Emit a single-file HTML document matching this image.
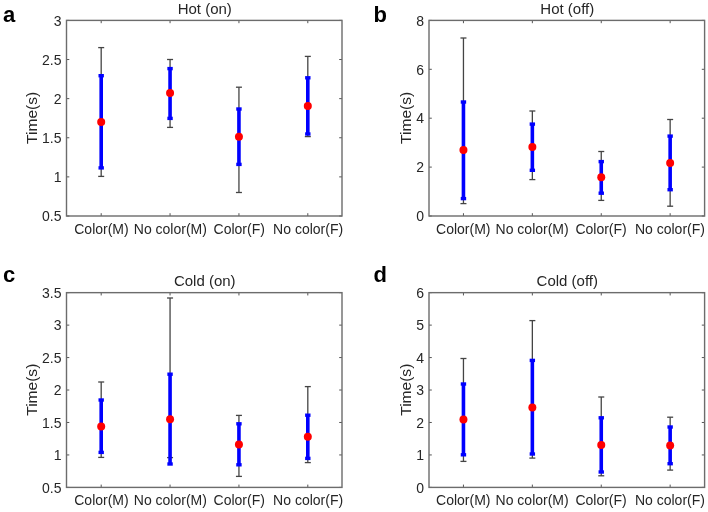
<!DOCTYPE html>
<html><head><meta charset="utf-8"><style>
html,body{margin:0;padding:0;background:#fff;}
svg{display:block;will-change:transform;}
text{font-family:"Liberation Sans",sans-serif;}
.let{font-size:22px;font-weight:bold;fill:#000;}
.tt{font-size:14px;fill:#262626;}
.ti{font-size:15px;fill:#262626;}
.tl{font-size:14px;fill:#262626;}
.ax{fill:none;stroke:#6c6c6c;stroke-width:1.4;}
.tk{stroke:#555;stroke-width:1;}
.bk{stroke:#444;stroke-width:1.3;}
.bl{stroke:#0000ff;stroke-width:3.6;}
.blc{stroke:#0000ff;stroke-width:3.4;}
.rd{fill:#ff0000;}
</style></head><body>
<svg width="708" height="512" viewBox="0 0 708 512">
<text x="3" y="22" class="let">a</text>
<text x="204.75" y="14.20" class="ti" text-anchor="middle">Hot (on)</text>
<text transform="translate(36.50,117.90) rotate(-90) scale(1.11,1)" class="tt" text-anchor="middle">Time(s)</text>
<line x1="66.5" y1="216.00" x2="69.3" y2="216.00" class="tk"/>
<line x1="342.0" y1="216.00" x2="339.2" y2="216.00" class="tk"/>
<text x="61.50" y="221.20" class="tl" text-anchor="end">0.5</text>
<line x1="66.5" y1="176.88" x2="69.3" y2="176.88" class="tk"/>
<line x1="342.0" y1="176.88" x2="339.2" y2="176.88" class="tk"/>
<text x="61.50" y="182.08" class="tl" text-anchor="end">1</text>
<line x1="66.5" y1="137.76" x2="69.3" y2="137.76" class="tk"/>
<line x1="342.0" y1="137.76" x2="339.2" y2="137.76" class="tk"/>
<text x="61.50" y="142.96" class="tl" text-anchor="end">1.5</text>
<line x1="66.5" y1="98.64" x2="69.3" y2="98.64" class="tk"/>
<line x1="342.0" y1="98.64" x2="339.2" y2="98.64" class="tk"/>
<text x="61.50" y="103.84" class="tl" text-anchor="end">2</text>
<line x1="66.5" y1="59.52" x2="69.3" y2="59.52" class="tk"/>
<line x1="342.0" y1="59.52" x2="339.2" y2="59.52" class="tk"/>
<text x="61.50" y="64.72" class="tl" text-anchor="end">2.5</text>
<line x1="66.5" y1="20.40" x2="69.3" y2="20.40" class="tk"/>
<line x1="342.0" y1="20.40" x2="339.2" y2="20.40" class="tk"/>
<text x="61.50" y="25.60" class="tl" text-anchor="end">3</text>
<line x1="101.19" y1="216.0" x2="101.19" y2="213.2" class="tk"/>
<line x1="101.19" y1="20.4" x2="101.19" y2="23.2" class="tk"/>
<text x="101.49" y="234.20" class="tl" text-anchor="middle">Color(M)</text>
<line x1="170.06" y1="216.0" x2="170.06" y2="213.2" class="tk"/>
<line x1="170.06" y1="20.4" x2="170.06" y2="23.2" class="tk"/>
<text x="170.36" y="234.20" class="tl" text-anchor="middle">No color(M)</text>
<line x1="238.94" y1="216.0" x2="238.94" y2="213.2" class="tk"/>
<line x1="238.94" y1="20.4" x2="238.94" y2="23.2" class="tk"/>
<text x="239.24" y="234.20" class="tl" text-anchor="middle">Color(F)</text>
<line x1="307.81" y1="216.0" x2="307.81" y2="213.2" class="tk"/>
<line x1="307.81" y1="20.4" x2="307.81" y2="23.2" class="tk"/>
<text x="308.11" y="234.20" class="tl" text-anchor="middle">No color(F)</text>
<rect x="66.5" y="20.4" width="275.5" height="195.6" class="ax"/>
<line x1="101.19" y1="47.6" x2="101.19" y2="176.4" class="bk"/>
<line x1="98.19" y1="47.6" x2="104.19" y2="47.6" class="bk"/>
<line x1="98.19" y1="176.4" x2="104.19" y2="176.4" class="bk"/>
<line x1="101.19" y1="75.7" x2="101.19" y2="167.9" class="bl"/>
<line x1="98.49" y1="75.7" x2="103.89" y2="75.7" class="blc"/>
<line x1="98.49" y1="167.9" x2="103.89" y2="167.9" class="blc"/>
<circle cx="101.19" cy="122.0" r="4.0" class="rd"/>
<line x1="170.06" y1="59.5" x2="170.06" y2="127.4" class="bk"/>
<line x1="167.06" y1="59.5" x2="173.06" y2="59.5" class="bk"/>
<line x1="167.06" y1="127.4" x2="173.06" y2="127.4" class="bk"/>
<line x1="170.06" y1="68.6" x2="170.06" y2="118.4" class="bl"/>
<line x1="167.36" y1="68.6" x2="172.76" y2="68.6" class="blc"/>
<line x1="167.36" y1="118.4" x2="172.76" y2="118.4" class="blc"/>
<circle cx="170.06" cy="93.0" r="4.0" class="rd"/>
<line x1="238.94" y1="87.2" x2="238.94" y2="192.5" class="bk"/>
<line x1="235.94" y1="87.2" x2="241.94" y2="87.2" class="bk"/>
<line x1="235.94" y1="192.5" x2="241.94" y2="192.5" class="bk"/>
<line x1="238.94" y1="109.0" x2="238.94" y2="164.4" class="bl"/>
<line x1="236.24" y1="109.0" x2="241.64" y2="109.0" class="blc"/>
<line x1="236.24" y1="164.4" x2="241.64" y2="164.4" class="blc"/>
<circle cx="238.94" cy="136.7" r="4.0" class="rd"/>
<line x1="307.81" y1="56.4" x2="307.81" y2="136.6" class="bk"/>
<line x1="304.81" y1="56.4" x2="310.81" y2="56.4" class="bk"/>
<line x1="304.81" y1="136.6" x2="310.81" y2="136.6" class="bk"/>
<line x1="307.81" y1="77.8" x2="307.81" y2="134.0" class="bl"/>
<line x1="305.11" y1="77.8" x2="310.51" y2="77.8" class="blc"/>
<line x1="305.11" y1="134.0" x2="310.51" y2="134.0" class="blc"/>
<circle cx="307.81" cy="105.9" r="4.0" class="rd"/>
<text x="373.5" y="22" class="let">b</text>
<text x="567.30" y="14.20" class="ti" text-anchor="middle">Hot (off)</text>
<text transform="translate(410.70,117.90) rotate(-90) scale(1.11,1)" class="tt" text-anchor="middle">Time(s)</text>
<line x1="429.0" y1="216.00" x2="431.8" y2="216.00" class="tk"/>
<line x1="704.6" y1="216.00" x2="701.8000000000001" y2="216.00" class="tk"/>
<text x="424.00" y="221.20" class="tl" text-anchor="end">0</text>
<line x1="429.0" y1="167.10" x2="431.8" y2="167.10" class="tk"/>
<line x1="704.6" y1="167.10" x2="701.8000000000001" y2="167.10" class="tk"/>
<text x="424.00" y="172.30" class="tl" text-anchor="end">2</text>
<line x1="429.0" y1="118.20" x2="431.8" y2="118.20" class="tk"/>
<line x1="704.6" y1="118.20" x2="701.8000000000001" y2="118.20" class="tk"/>
<text x="424.00" y="123.40" class="tl" text-anchor="end">4</text>
<line x1="429.0" y1="69.30" x2="431.8" y2="69.30" class="tk"/>
<line x1="704.6" y1="69.30" x2="701.8000000000001" y2="69.30" class="tk"/>
<text x="424.00" y="74.50" class="tl" text-anchor="end">6</text>
<line x1="429.0" y1="20.40" x2="431.8" y2="20.40" class="tk"/>
<line x1="704.6" y1="20.40" x2="701.8000000000001" y2="20.40" class="tk"/>
<text x="424.00" y="25.60" class="tl" text-anchor="end">8</text>
<line x1="463.45" y1="216.0" x2="463.45" y2="213.2" class="tk"/>
<line x1="463.45" y1="20.4" x2="463.45" y2="23.2" class="tk"/>
<text x="463.25" y="234.20" class="tl" text-anchor="middle">Color(M)</text>
<line x1="532.35" y1="216.0" x2="532.35" y2="213.2" class="tk"/>
<line x1="532.35" y1="20.4" x2="532.35" y2="23.2" class="tk"/>
<text x="532.15" y="234.20" class="tl" text-anchor="middle">No color(M)</text>
<line x1="601.25" y1="216.0" x2="601.25" y2="213.2" class="tk"/>
<line x1="601.25" y1="20.4" x2="601.25" y2="23.2" class="tk"/>
<text x="601.05" y="234.20" class="tl" text-anchor="middle">Color(F)</text>
<line x1="670.15" y1="216.0" x2="670.15" y2="213.2" class="tk"/>
<line x1="670.15" y1="20.4" x2="670.15" y2="23.2" class="tk"/>
<text x="669.95" y="234.20" class="tl" text-anchor="middle">No color(F)</text>
<rect x="429.0" y="20.4" width="275.6" height="195.6" class="ax"/>
<line x1="463.45" y1="38.0" x2="463.45" y2="203.6" class="bk"/>
<line x1="460.45" y1="38.0" x2="466.45" y2="38.0" class="bk"/>
<line x1="460.45" y1="203.6" x2="466.45" y2="203.6" class="bk"/>
<line x1="463.45" y1="102.0" x2="463.45" y2="198.6" class="bl"/>
<line x1="460.75" y1="102.0" x2="466.15" y2="102.0" class="blc"/>
<line x1="460.75" y1="198.6" x2="466.15" y2="198.6" class="blc"/>
<circle cx="463.45" cy="149.9" r="4.0" class="rd"/>
<line x1="532.35" y1="111" x2="532.35" y2="179.6" class="bk"/>
<line x1="529.35" y1="111" x2="535.35" y2="111" class="bk"/>
<line x1="529.35" y1="179.6" x2="535.35" y2="179.6" class="bk"/>
<line x1="532.35" y1="124.1" x2="532.35" y2="170.3" class="bl"/>
<line x1="529.65" y1="124.1" x2="535.05" y2="124.1" class="blc"/>
<line x1="529.65" y1="170.3" x2="535.05" y2="170.3" class="blc"/>
<circle cx="532.35" cy="147" r="4.0" class="rd"/>
<line x1="601.25" y1="151.5" x2="601.25" y2="200.4" class="bk"/>
<line x1="598.25" y1="151.5" x2="604.25" y2="151.5" class="bk"/>
<line x1="598.25" y1="200.4" x2="604.25" y2="200.4" class="bk"/>
<line x1="601.25" y1="161.6" x2="601.25" y2="193.2" class="bl"/>
<line x1="598.55" y1="161.6" x2="603.95" y2="161.6" class="blc"/>
<line x1="598.55" y1="193.2" x2="603.95" y2="193.2" class="blc"/>
<circle cx="601.25" cy="177.2" r="4.0" class="rd"/>
<line x1="670.15" y1="119.5" x2="670.15" y2="206.2" class="bk"/>
<line x1="667.15" y1="119.5" x2="673.15" y2="119.5" class="bk"/>
<line x1="667.15" y1="206.2" x2="673.15" y2="206.2" class="bk"/>
<line x1="670.15" y1="136.1" x2="670.15" y2="189.7" class="bl"/>
<line x1="667.45" y1="136.1" x2="672.85" y2="136.1" class="blc"/>
<line x1="667.45" y1="189.7" x2="672.85" y2="189.7" class="blc"/>
<circle cx="670.15" cy="163" r="4.0" class="rd"/>
<text x="3" y="282" class="let">c</text>
<text x="204.75" y="286.45" class="ti" text-anchor="middle">Cold (on)</text>
<text transform="translate(36.50,389.72) rotate(-90) scale(1.11,1)" class="tt" text-anchor="middle">Time(s)</text>
<line x1="66.5" y1="487.40" x2="69.3" y2="487.40" class="tk"/>
<line x1="342.0" y1="487.40" x2="339.2" y2="487.40" class="tk"/>
<text x="61.50" y="492.60" class="tl" text-anchor="end">0.5</text>
<line x1="66.5" y1="454.94" x2="69.3" y2="454.94" class="tk"/>
<line x1="342.0" y1="454.94" x2="339.2" y2="454.94" class="tk"/>
<text x="61.50" y="460.14" class="tl" text-anchor="end">1</text>
<line x1="66.5" y1="422.48" x2="69.3" y2="422.48" class="tk"/>
<line x1="342.0" y1="422.48" x2="339.2" y2="422.48" class="tk"/>
<text x="61.50" y="427.68" class="tl" text-anchor="end">1.5</text>
<line x1="66.5" y1="390.02" x2="69.3" y2="390.02" class="tk"/>
<line x1="342.0" y1="390.02" x2="339.2" y2="390.02" class="tk"/>
<text x="61.50" y="395.22" class="tl" text-anchor="end">2</text>
<line x1="66.5" y1="357.57" x2="69.3" y2="357.57" class="tk"/>
<line x1="342.0" y1="357.57" x2="339.2" y2="357.57" class="tk"/>
<text x="61.50" y="362.77" class="tl" text-anchor="end">2.5</text>
<line x1="66.5" y1="325.11" x2="69.3" y2="325.11" class="tk"/>
<line x1="342.0" y1="325.11" x2="339.2" y2="325.11" class="tk"/>
<text x="61.50" y="330.31" class="tl" text-anchor="end">3</text>
<line x1="66.5" y1="292.65" x2="69.3" y2="292.65" class="tk"/>
<line x1="342.0" y1="292.65" x2="339.2" y2="292.65" class="tk"/>
<text x="61.50" y="297.85" class="tl" text-anchor="end">3.5</text>
<line x1="101.19" y1="487.4" x2="101.19" y2="484.59999999999997" class="tk"/>
<line x1="101.19" y1="292.65" x2="101.19" y2="295.45" class="tk"/>
<text x="101.49" y="505.10" class="tl" text-anchor="middle">Color(M)</text>
<line x1="170.06" y1="487.4" x2="170.06" y2="484.59999999999997" class="tk"/>
<line x1="170.06" y1="292.65" x2="170.06" y2="295.45" class="tk"/>
<text x="170.36" y="505.10" class="tl" text-anchor="middle">No color(M)</text>
<line x1="238.94" y1="487.4" x2="238.94" y2="484.59999999999997" class="tk"/>
<line x1="238.94" y1="292.65" x2="238.94" y2="295.45" class="tk"/>
<text x="239.24" y="505.10" class="tl" text-anchor="middle">Color(F)</text>
<line x1="307.81" y1="487.4" x2="307.81" y2="484.59999999999997" class="tk"/>
<line x1="307.81" y1="292.65" x2="307.81" y2="295.45" class="tk"/>
<text x="308.11" y="505.10" class="tl" text-anchor="middle">No color(F)</text>
<rect x="66.5" y="292.65" width="275.5" height="194.75" class="ax"/>
<line x1="101.19" y1="382" x2="101.19" y2="457.4" class="bk"/>
<line x1="98.19" y1="382" x2="104.19" y2="382" class="bk"/>
<line x1="98.19" y1="457.4" x2="104.19" y2="457.4" class="bk"/>
<line x1="101.19" y1="400" x2="101.19" y2="452.4" class="bl"/>
<line x1="98.49" y1="400" x2="103.89" y2="400" class="blc"/>
<line x1="98.49" y1="452.4" x2="103.89" y2="452.4" class="blc"/>
<circle cx="101.19" cy="426.4" r="4.0" class="rd"/>
<line x1="170.06" y1="298" x2="170.06" y2="457.6" class="bk"/>
<line x1="167.06" y1="298" x2="173.06" y2="298" class="bk"/>
<line x1="167.06" y1="457.6" x2="173.06" y2="457.6" class="bk"/>
<line x1="170.06" y1="374.2" x2="170.06" y2="464.0" class="bl"/>
<line x1="167.36" y1="374.2" x2="172.76" y2="374.2" class="blc"/>
<line x1="167.36" y1="464.0" x2="172.76" y2="464.0" class="blc"/>
<circle cx="170.06" cy="419.2" r="4.0" class="rd"/>
<line x1="238.94" y1="415.4" x2="238.94" y2="476.4" class="bk"/>
<line x1="235.94" y1="415.4" x2="241.94" y2="415.4" class="bk"/>
<line x1="235.94" y1="476.4" x2="241.94" y2="476.4" class="bk"/>
<line x1="238.94" y1="423.8" x2="238.94" y2="464.8" class="bl"/>
<line x1="236.24" y1="423.8" x2="241.64" y2="423.8" class="blc"/>
<line x1="236.24" y1="464.8" x2="241.64" y2="464.8" class="blc"/>
<circle cx="238.94" cy="444.4" r="4.0" class="rd"/>
<line x1="307.81" y1="386.6" x2="307.81" y2="462.6" class="bk"/>
<line x1="304.81" y1="386.6" x2="310.81" y2="386.6" class="bk"/>
<line x1="304.81" y1="462.6" x2="310.81" y2="462.6" class="bk"/>
<line x1="307.81" y1="415.2" x2="307.81" y2="458.4" class="bl"/>
<line x1="305.11" y1="415.2" x2="310.51" y2="415.2" class="blc"/>
<line x1="305.11" y1="458.4" x2="310.51" y2="458.4" class="blc"/>
<circle cx="307.81" cy="436.8" r="4.0" class="rd"/>
<text x="373.5" y="282" class="let">d</text>
<text x="567.30" y="286.45" class="ti" text-anchor="middle">Cold (off)</text>
<text transform="translate(410.70,389.72) rotate(-90) scale(1.11,1)" class="tt" text-anchor="middle">Time(s)</text>
<line x1="429.0" y1="487.40" x2="431.8" y2="487.40" class="tk"/>
<line x1="704.6" y1="487.40" x2="701.8000000000001" y2="487.40" class="tk"/>
<text x="424.00" y="492.60" class="tl" text-anchor="end">0</text>
<line x1="429.0" y1="454.94" x2="431.8" y2="454.94" class="tk"/>
<line x1="704.6" y1="454.94" x2="701.8000000000001" y2="454.94" class="tk"/>
<text x="424.00" y="460.14" class="tl" text-anchor="end">1</text>
<line x1="429.0" y1="422.48" x2="431.8" y2="422.48" class="tk"/>
<line x1="704.6" y1="422.48" x2="701.8000000000001" y2="422.48" class="tk"/>
<text x="424.00" y="427.68" class="tl" text-anchor="end">2</text>
<line x1="429.0" y1="390.02" x2="431.8" y2="390.02" class="tk"/>
<line x1="704.6" y1="390.02" x2="701.8000000000001" y2="390.02" class="tk"/>
<text x="424.00" y="395.22" class="tl" text-anchor="end">3</text>
<line x1="429.0" y1="357.57" x2="431.8" y2="357.57" class="tk"/>
<line x1="704.6" y1="357.57" x2="701.8000000000001" y2="357.57" class="tk"/>
<text x="424.00" y="362.77" class="tl" text-anchor="end">4</text>
<line x1="429.0" y1="325.11" x2="431.8" y2="325.11" class="tk"/>
<line x1="704.6" y1="325.11" x2="701.8000000000001" y2="325.11" class="tk"/>
<text x="424.00" y="330.31" class="tl" text-anchor="end">5</text>
<line x1="429.0" y1="292.65" x2="431.8" y2="292.65" class="tk"/>
<line x1="704.6" y1="292.65" x2="701.8000000000001" y2="292.65" class="tk"/>
<text x="424.00" y="297.85" class="tl" text-anchor="end">6</text>
<line x1="463.45" y1="487.4" x2="463.45" y2="484.59999999999997" class="tk"/>
<line x1="463.45" y1="292.65" x2="463.45" y2="295.45" class="tk"/>
<text x="463.25" y="505.10" class="tl" text-anchor="middle">Color(M)</text>
<line x1="532.35" y1="487.4" x2="532.35" y2="484.59999999999997" class="tk"/>
<line x1="532.35" y1="292.65" x2="532.35" y2="295.45" class="tk"/>
<text x="532.15" y="505.10" class="tl" text-anchor="middle">No color(M)</text>
<line x1="601.25" y1="487.4" x2="601.25" y2="484.59999999999997" class="tk"/>
<line x1="601.25" y1="292.65" x2="601.25" y2="295.45" class="tk"/>
<text x="601.05" y="505.10" class="tl" text-anchor="middle">Color(F)</text>
<line x1="670.15" y1="487.4" x2="670.15" y2="484.59999999999997" class="tk"/>
<line x1="670.15" y1="292.65" x2="670.15" y2="295.45" class="tk"/>
<text x="669.95" y="505.10" class="tl" text-anchor="middle">No color(F)</text>
<rect x="429.0" y="292.65" width="275.6" height="194.75" class="ax"/>
<line x1="463.45" y1="358.5" x2="463.45" y2="461.4" class="bk"/>
<line x1="460.45" y1="358.5" x2="466.45" y2="358.5" class="bk"/>
<line x1="460.45" y1="461.4" x2="466.45" y2="461.4" class="bk"/>
<line x1="463.45" y1="384" x2="463.45" y2="454.8" class="bl"/>
<line x1="460.75" y1="384" x2="466.15" y2="384" class="blc"/>
<line x1="460.75" y1="454.8" x2="466.15" y2="454.8" class="blc"/>
<circle cx="463.45" cy="419.6" r="4.0" class="rd"/>
<line x1="532.35" y1="320.6" x2="532.35" y2="458.1" class="bk"/>
<line x1="529.35" y1="320.6" x2="535.35" y2="320.6" class="bk"/>
<line x1="529.35" y1="458.1" x2="535.35" y2="458.1" class="bk"/>
<line x1="532.35" y1="360.4" x2="532.35" y2="454.0" class="bl"/>
<line x1="529.65" y1="360.4" x2="535.05" y2="360.4" class="blc"/>
<line x1="529.65" y1="454.0" x2="535.05" y2="454.0" class="blc"/>
<circle cx="532.35" cy="407.6" r="4.0" class="rd"/>
<line x1="601.25" y1="397" x2="601.25" y2="475.8" class="bk"/>
<line x1="598.25" y1="397" x2="604.25" y2="397" class="bk"/>
<line x1="598.25" y1="475.8" x2="604.25" y2="475.8" class="bk"/>
<line x1="601.25" y1="417.8" x2="601.25" y2="472" class="bl"/>
<line x1="598.55" y1="417.8" x2="603.95" y2="417.8" class="blc"/>
<line x1="598.55" y1="472" x2="603.95" y2="472" class="blc"/>
<circle cx="601.25" cy="445.1" r="4.0" class="rd"/>
<line x1="670.15" y1="417.2" x2="670.15" y2="470.1" class="bk"/>
<line x1="667.15" y1="417.2" x2="673.15" y2="417.2" class="bk"/>
<line x1="667.15" y1="470.1" x2="673.15" y2="470.1" class="bk"/>
<line x1="670.15" y1="427" x2="670.15" y2="463.7" class="bl"/>
<line x1="667.45" y1="427" x2="672.85" y2="427" class="blc"/>
<line x1="667.45" y1="463.7" x2="672.85" y2="463.7" class="blc"/>
<circle cx="670.15" cy="445.4" r="4.0" class="rd"/>
</svg>
</body></html>
